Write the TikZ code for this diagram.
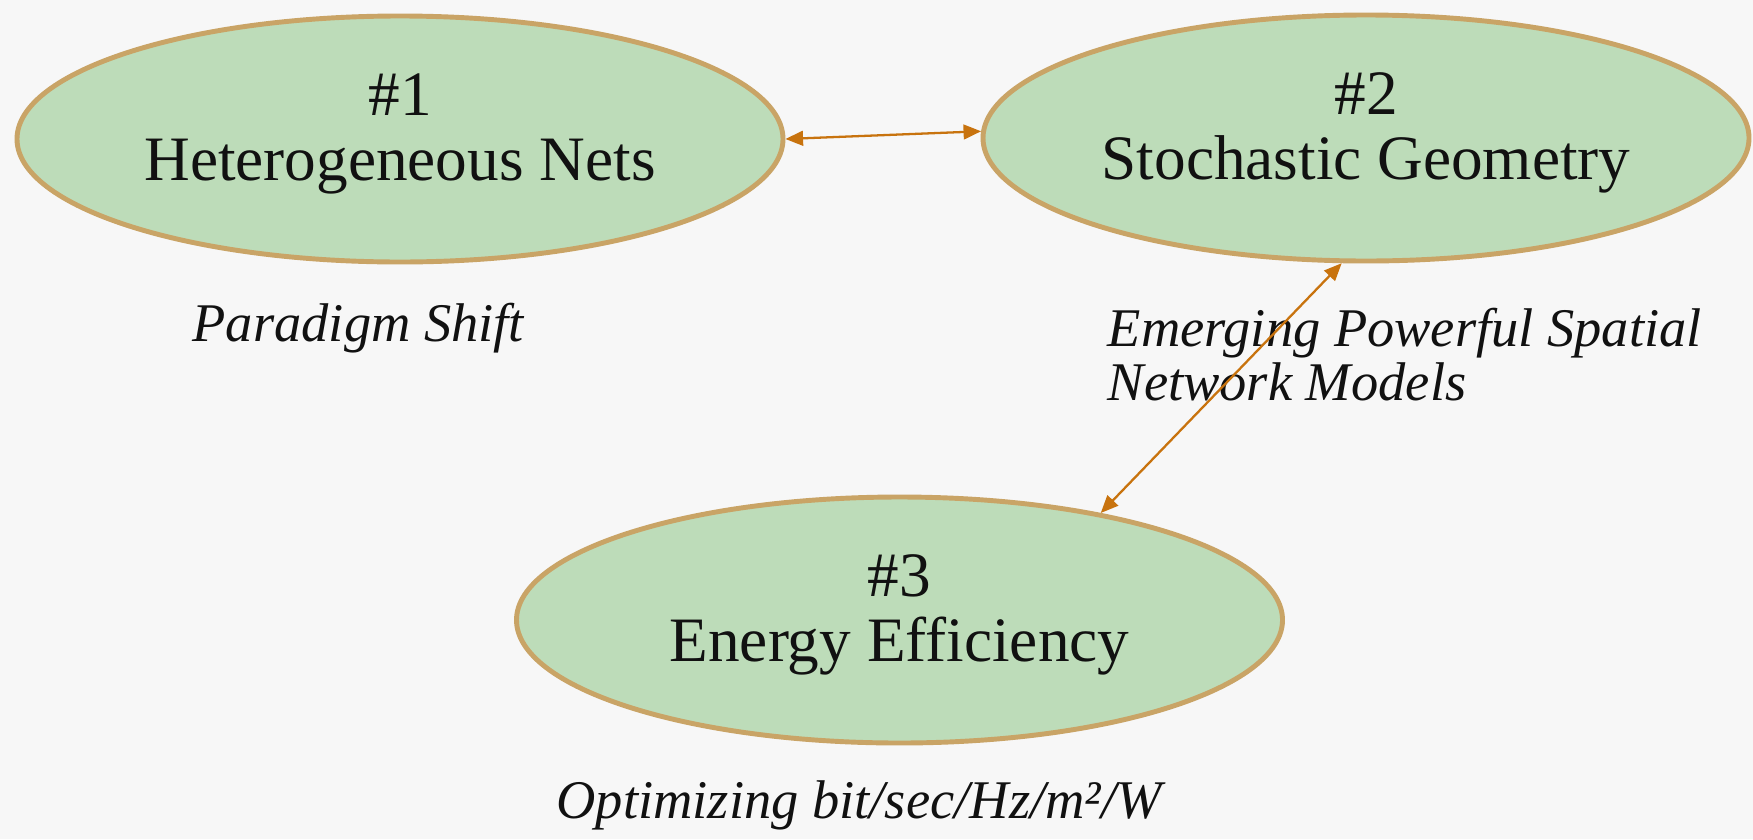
\documentclass[tikz,border=0pt]{standalone}
\usepackage{fontspec}
\setmainfont{Liberation Serif}
\usetikzlibrary{arrows.meta,positioning,shapes.geometric}
\definecolor{paper}{HTML}{F7F7F7}
\definecolor{leaf}{HTML}{BDDCB9}
\definecolor{rim}{HTML}{C9A466}
\definecolor{rust}{HTML}{C8730E}
\definecolor{ink}{HTML}{111111}
\tikzset{
  topic/.style={ellipse,draw=rim,fill=leaf,line width=1.4pt,minimum width=7.66cm,minimum height=2.46cm,inner sep=0pt,align=center,font=\fontsize{18}{18.5}\selectfont,text=ink,text depth=7pt},
  note/.style={inner sep=0pt,align=left,font=\fontsize{15.5}{15.4}\selectfont\itshape,text=ink},
  link/.style={{Triangle[length=5pt,width=4.2pt]}-{Triangle[length=5pt,width=4.2pt]},line width=0.65pt,draw=rust}
}

\begin{document}
\begin{tikzpicture}
    \fill[paper] (0,0) rectangle (17.53,8.39);
    \useasboundingbox (0,0) rectangle (17.53,8.39);

    \node[topic] (hetnets) at (4.00,7.00) {\#1\\Heterogeneous Nets};
    \node[topic] (stochgeo) at (13.66,7.01) {\#2\\Stochastic Geometry};
    \node[topic] (energy) at (8.995,2.19) {\#3\\Energy Efficiency};

    \node[note,anchor=base west] (shift) at (1.92,4.98) {Paradigm Shift};
    \node[note,anchor=west] (models) at (11.07,4.84) {Emerging Powerful Spatial\\Network Models};
    \node[note,anchor=base] (metric) at (8.59,0.21) {Optimizing bit/sec/Hz/m²/W};

    \draw[link] (hetnets.east) -- (stochgeo.179);
    \draw[link] (stochgeo.259) -- (energy.28);
\end{tikzpicture}
\end{document}
